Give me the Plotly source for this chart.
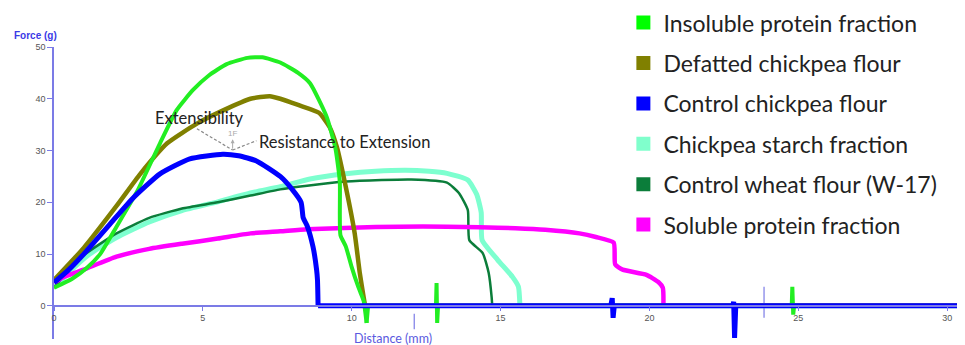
import plotly.graph_objects as go

# ---- data ----
insoluble_x = [0, 0.6, 1.1, 1.55, 2.1, 2.8, 3.56, 4.12, 4.67, 5.2, 5.8, 6.5, 7.0, 7.6, 8.2, 8.6, 9.16, 9.45, 9.6, 9.62, 9.8, 10.0, 10.2, 10.3, 10.4, 10.5, 10.55,
               12.83, 12.85, 12.87, 12.9, 24.78, 24.8, 24.83, 24.86, 30.45, 30.5, 30.53, 30.6]
insoluble_y = [3.5, 5.2, 7.3, 10, 15.3, 22.2, 31.4, 37.8, 41.7, 44.5, 46.7, 47.9, 48, 47, 45, 43, 36.5, 30.5, 24, 13.7, 11.5, 7.5, 4, 2.5, 1.0, -3.3, 0,
               0, 4.4, -3.3, 0, 0, 3.7, -1.7, 0, 0, -3, 1, 0]

defatted_x = [0, 1, 2.1, 2.9, 3.8, 4.8, 5.7, 6.6, 7.25, 7.6, 8.2, 8.9, 9.26, 9.5, 9.8, 10.1, 10.27, 10.4, 10.45, 30.6]
defatted_y = [5, 11.2, 19.3, 25.5, 31.4, 35.2, 37.8, 40, 40.5, 40, 38.8, 37.3, 34.5, 30.7, 23, 14, 6.4, 1.7, 0, 0]

control_chickpea_x = [0, 0.5, 1, 1.88, 2.65, 3.56, 4.56, 5.67, 6.2, 6.8, 7.6, 8.0, 8.3, 8.37, 8.5, 8.7, 8.82, 8.85, 8.87,
                      18.7, 18.75, 18.78, 18.82, 22.8, 22.83, 22.86, 22.9, 30.6]
control_chickpea_y = [4.5, 7, 10, 15.8, 20.8, 25.5, 28.4, 29.3, 29, 28, 25, 22.5, 20, 17, 15.5, 11.4, 7, 5, 0,
                      0, 1.5, -2.3, 0, 0, 0.8, -6.2, 0, 0]

starch_x = [0, 0.6, 1.2, 2.1, 3.2, 4.3, 5.5, 6.6, 7.6, 8.6, 9.8, 10.8, 11.8, 12.6, 13.2, 13.9, 14.2, 14.35, 14.38, 14.9, 15.4, 15.6, 15.65, 30.6]
starch_y = [3.5, 7, 10, 13.2, 16.2, 18.4, 20.1, 21.8, 23, 24.5, 25.5, 26, 26.2, 26, 25.6, 24.3, 21.5, 18, 12.7, 8.9, 5.6, 3.7, 0, 0]

wheat_x = [0, 0.5, 1, 2.1, 3.2, 4.3, 5.5, 6.6, 7.6, 8.5, 9.8, 11, 12, 13.2, 13.6, 13.9, 13.95, 14.4, 14.6, 14.7, 14.72,
           30.35, 30.5, 30.52, 30.55, 30.6]
wheat_y = [3.5, 7, 9.8, 14, 17, 18.8, 20, 21.3, 22.5, 23.2, 24, 24.3, 24.4, 23.8, 21.8, 18.5, 12.7, 10.2, 6.4, 1.7, 0,
           0, -2.3, 7, -2.5, 0]

soluble_x = [0, 0.3, 1, 2.1, 3.2, 4.3, 5.5, 6.6, 7.6, 8.5, 10, 11.6, 13.2, 14.3, 15.5, 16.5, 17.65, 18.2, 18.8, 18.85, 19.1, 19.9, 20.3, 20.45, 20.47, 30.6]
soluble_y = [4.5, 5.5, 7, 9.5, 11, 12, 13, 14, 14.4, 14.8, 15.1, 15.3, 15.3, 15.2, 15, 14.7, 14, 13.3, 12.2, 8, 7, 6, 4.6, 3.5, 0, 0]

# instrument marker lines (x, y_top, y_bottom)
marker_x = [12.1, 23.85]
marker_top = [-1.5, 3.7]
marker_bottom = [-4.5, -2.3]

series = [
    ("Chickpea starch fraction", starch_x, starch_y, "#7dffcf", 5),
    ("Control wheat flour (W-17)", wheat_x, wheat_y, "#0b7d3a", 2.5),
    ("Soluble protein fraction", soluble_x, soluble_y, "#ff00ff", 4.5),
    ("Defatted chickpea flour", defatted_x, defatted_y, "#808000", 4.5),
    ("Insoluble protein fraction", insoluble_x, insoluble_y, "#22ee22", 4),
    ("Control chickpea flour", control_chickpea_x, control_chickpea_y, "#0000ff", 5),
]
legend_order = ["Insoluble protein fraction", "Defatted chickpea flour", "Control chickpea flour",
                "Chickpea starch fraction", "Control wheat flour (W-17)", "Soluble protein fraction"]
legend_colors = {"Insoluble protein fraction": "#00ff00", "Defatted chickpea flour": "#808000",
                 "Control chickpea flour": "#0000ff", "Chickpea starch fraction": "#80ffcc",
                 "Control wheat flour (W-17)": "#0b7d3a", "Soluble protein fraction": "#ff00ff"}

AXIS = "#7b7be6"
fig = go.Figure()

# marker lines
mx, my = [], []
for x, t, b in zip(marker_x, marker_top, marker_bottom):
    mx += [x, x, None]
    my += [t, b, None]
fig.add_trace(go.Scatter(x=mx, y=my, mode="lines", line=dict(color=AXIS, width=1.2),
                         showlegend=False, hoverinfo="skip"))

for name, xs, ys, col, w in series:
    # curve part (smooth) up to the first return to zero, then the baseline part (straight)
    k = next(i for i in range(1, len(ys)) if ys[i] <= 0 and ys[i - 1] > 0)
    fig.add_trace(go.Scatter(x=xs[:k + 1], y=ys[:k + 1], mode="lines", name=name,
                             line=dict(color=col, width=w, shape="spline", smoothing=0.5),
                             showlegend=False))
    fig.add_trace(go.Scatter(x=xs[k:], y=ys[k:], mode="lines", name=name,
                             line=dict(color=col, width=w), showlegend=False))

for i, name in enumerate(legend_order):
    fig.add_trace(go.Scatter(x=[None], y=[None], mode="markers", name=name,
                             legendgroup=f"g{i}", legendrank=i,
                             marker=dict(symbol="square", size=14, color=legend_colors[name])))

# page has an 8px body margin: figure pixel = page pixel - 8
OFF = 8
Y0, Y1 = -6.4, 50
PW, PH = 911, 292
ML, MT = 54 - OFF, 47 - OFF
W, H = 965 - OFF, 345 - OFF
MB = H - MT - PH


def px(p):
    return (p - OFF - ML) / PW


def py(p):
    return (MT + PH - (p - OFF)) / PH


fig.update_layout(
    width=W, height=H,
    margin=dict(l=ML, r=W - ML - PW, t=MT, b=MB, autoexpand=False),
    paper_bgcolor="white", plot_bgcolor="white",
    showlegend=True,
    legend=dict(x=0.625, y=1.157, xanchor="left", yanchor="top", maxheight=340,
                font=dict(family="Lato", size=23, color="#222222"),
                tracegroupgap=7.5, bgcolor="rgba(0,0,0,0)", itemsizing="trace"),
    xaxis=dict(range=[0, 30.6], anchor="free", position=(0 - Y0) / (Y1 - Y0), automargin=False,
               showline=True, linecolor=AXIS, linewidth=1.5, showgrid=False, zeroline=False,
               tickvals=[0, 5, 10, 15, 20, 25, 30], ticks="outside", ticklen=4, tickcolor=AXIS,
               tickfont=dict(family="Liberation Sans", size=9, color="#555555")),
    yaxis=dict(range=[Y0, Y1], automargin=False, showline=True, linecolor=AXIS, linewidth=1.5,
               showgrid=False, zeroline=False,
               tickvals=[0, 10, 20, 30, 40, 50], ticks="outside", ticklen=5, tickcolor=AXIS,
               tickfont=dict(family="Liberation Sans", size=9, color="#555555")),
    shapes=[
        dict(type="line", xref="x", yref="y", x0=4.8, y0=34.2, x1=6.0, y1=30.1,
             line=dict(color="#888888", width=1.2, dash="3px,2px")),
        dict(type="line", xref="x", yref="y", x0=6.0, y0=30.1, x1=6.8, y1=31.9,
             line=dict(color="#888888", width=1.2, dash="3px,2px")),
    ],
    annotations=[
        dict(x=6.0, y=32.2, xref="x", yref="y", text="", showarrow=True, ax=0, ay=11,
             arrowhead=2, arrowsize=0.8, arrowwidth=1, arrowcolor="#aaaaaa"),
        dict(x=6.0, y=33.3, xref="x", yref="y", text="1F", showarrow=False,
             font=dict(family="Liberation Sans", size=8, color="#aaaaaa")),
        dict(x=4.9, y=36.3, xref="x", yref="y", text="Extensibility", showarrow=False,
             font=dict(family="Lato", size=16.5, color="#222222")),
        dict(x=6.82, y=31.7, xref="x", yref="y", text="Resistance to Extension", showarrow=False,
             xanchor="left", font=dict(family="Lato", size=16.5, color="#222222")),
        dict(x=px(12), y=py(36), xref="paper", yref="paper", yanchor="middle",
             text="<b>Force (g)</b>", showarrow=False, xanchor="left",
             font=dict(family="Liberation Sans", size=10, color="#3a3ae6")),
        dict(x=px(393), y=py(338), xref="paper", yref="paper", yanchor="middle",
             text="Distance (mm)", showarrow=False,
             font=dict(family="Lato", size=12.5, color="#5a5ae0")),
    ],
)

fig.write_html("out.html")
